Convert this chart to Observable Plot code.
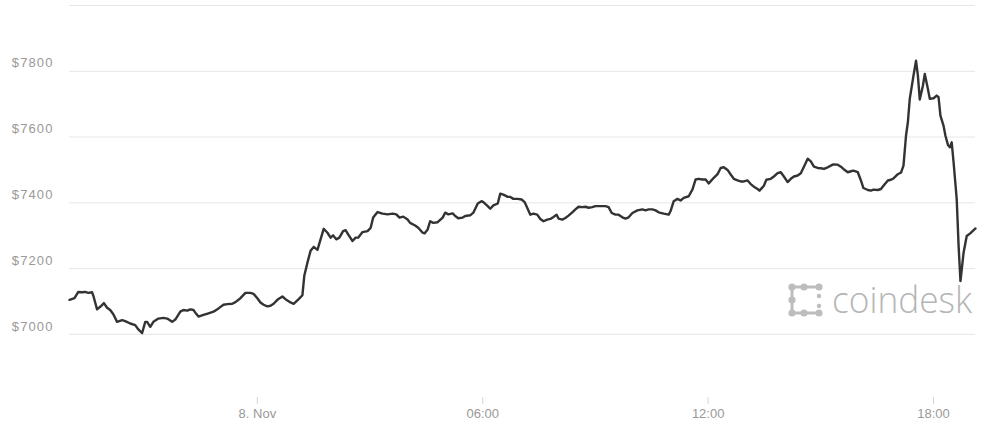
<!DOCTYPE html>
<html><head><meta charset="utf-8">
<script src="https://cdn.jsdelivr.net/npm/d3@7"></script>
<script src="https://cdn.jsdelivr.net/npm/@observablehq/plot@0.6"></script>
<style>
html,body{margin:0;padding:0;background:#fff;}
#wrap{width:986px;height:424px;}
svg [aria-label="y-axis tick label"] text{letter-spacing:1.1px;}
</style></head><body><div id="wrap"></div>
<script>
const times = ["07T19:00","07T19:08","07T19:14","07T19:20","07T19:25","07T19:30","07T19:36","07T19:38","07T19:44","07T19:51","07T19:55","07T20:00","07T20:05","07T20:10","07T20:16","07T20:24","07T20:29","07T20:37","07T20:45","07T20:50","07T20:56","07T21:01","07T21:04","07T21:09","07T21:14","07T21:22","07T21:30","07T21:36","07T21:44","07T21:49","07T21:57","07T22:02","07T22:08","07T22:13","07T22:18","07T22:21","07T22:26","07T22:34","07T22:42","07T22:50","07T22:58","07T23:06","07T23:12","07T23:20","07T23:25","07T23:33","07T23:41","07T23:49","07T23:54","08T00:00","08T00:05","08T00:10","08T00:16","08T00:21","08T00:26","08T00:32","08T00:40","08T00:45","08T00:53","08T00:58","08T01:06","08T01:12","08T01:15","08T01:20","08T01:25","08T01:30","08T01:36","08T01:41","08T01:46","08T01:52","08T01:57","08T02:01","08T02:06","08T02:11","08T02:17","08T02:21","08T02:25","08T02:32","08T02:37","08T02:41","08T02:48","08T02:56","08T03:01","08T03:05","08T03:12","08T03:20","08T03:28","08T03:36","08T03:42","08T03:47","08T03:53","08T04:00","08T04:04","08T04:12","08T04:17","08T04:24","08T04:27","08T04:32","08T04:36","08T04:41","08T04:48","08T04:56","08T05:00","08T05:05","08T05:12","08T05:16","08T05:21","08T05:28","08T05:32","08T05:40","08T05:45","08T05:52","08T05:58","08T06:01","08T06:08","08T06:12","08T06:17","08T06:24","08T06:28","08T06:33","08T06:40","08T06:44","08T06:49","08T06:56","08T07:02","08T07:07","08T07:11","08T07:16","08T07:21","08T07:27","08T07:32","08T07:37","08T07:43","08T07:48","08T07:53","08T07:58","08T08:01","08T08:07","08T08:12","08T08:17","08T08:23","08T08:28","08T08:33","08T08:39","08T08:44","08T08:49","08T08:55","08T09:00","08T09:08","08T09:16","08T09:21","08T09:26","08T09:32","08T09:37","08T09:43","08T09:48","08T09:53","08T09:59","08T10:07","08T10:15","08T10:20","08T10:25","08T10:31","08T10:36","08T10:41","08T10:49","08T10:57","08T11:00","08T11:05","08T11:11","08T11:16","08T11:21","08T11:29","08T11:35","08T11:40","08T11:45","08T11:51","08T11:56","08T12:01","08T12:09","08T12:15","08T12:20","08T12:25","08T12:31","08T12:36","08T12:41","08T12:47","08T12:52","08T12:57","08T13:03","08T13:08","08T13:13","08T13:19","08T13:22","08T13:29","08T13:33","08T13:40","08T13:45","08T13:51","08T13:56","08T14:01","08T14:07","08T14:12","08T14:17","08T14:23","08T14:28","08T14:33","08T14:39","08T14:44","08T14:49","08T14:55","08T15:00","08T15:05","08T15:11","08T15:16","08T15:20","08T15:27","08T15:32","08T15:36","08T15:43","08T15:48","08T15:52","08T15:59","08T16:04","08T16:08","08T16:15","08T16:20","08T16:24","08T16:31","08T16:36","08T16:40","08T16:47","08T16:52","08T16:56","08T17:03","08T17:08","08T17:12","08T17:16","08T17:19","08T17:22","08T17:28","08T17:32","08T17:35","08T17:38","08T17:43","08T17:46","08T17:51","08T17:54","08T18:00","08T18:05","08T18:08","08T18:11","08T18:16","08T18:19","08T18:23","08T18:26","08T18:29","08T18:32","08T18:37","08T18:40","08T18:43","08T18:48","08T18:53","08T18:59","08T19:07"];
const prices = [7105,7110,7129,7128,7129,7126,7128,7118,7076,7087,7095,7081,7074,7061,7038,7043,7040,7033,7028,7015,7004,7038,7038,7023,7038,7048,7050,7048,7038,7045,7069,7074,7072,7076,7074,7066,7054,7059,7064,7069,7079,7090,7092,7093,7098,7110,7126,7126,7123,7110,7097,7090,7085,7087,7093,7105,7115,7107,7097,7093,7107,7119,7178,7218,7254,7266,7257,7289,7321,7309,7294,7301,7289,7294,7314,7317,7304,7284,7294,7294,7311,7314,7324,7355,7372,7367,7365,7367,7365,7355,7358,7349,7339,7331,7324,7309,7307,7319,7344,7339,7341,7355,7370,7365,7368,7360,7353,7355,7360,7362,7370,7398,7405,7402,7390,7382,7392,7398,7428,7425,7418,7418,7412,7412,7410,7402,7385,7364,7367,7364,7351,7344,7349,7351,7357,7364,7352,7349,7354,7361,7371,7380,7388,7387,7388,7385,7387,7390,7390,7390,7387,7369,7364,7364,7356,7352,7356,7369,7377,7380,7377,7380,7380,7377,7371,7367,7364,7375,7405,7412,7407,7415,7420,7441,7471,7473,7471,7471,7459,7476,7487,7506,7508,7500,7486,7473,7468,7465,7465,7468,7457,7449,7442,7437,7452,7470,7473,7480,7490,7493,7480,7463,7473,7480,7483,7490,7510,7534,7526,7510,7506,7505,7503,7508,7513,7517,7516,7510,7503,7493,7496,7498,7493,7468,7445,7439,7437,7440,7439,7442,7452,7468,7470,7474,7487,7492,7513,7604,7645,7716,7787,7832,7787,7714,7756,7792,7746,7716,7718,7726,7721,7665,7634,7604,7576,7569,7584,7523,7411,7269,7162,7249,7299,7308,7322];
const xTickTimes = ["08T00:00","08T06:00","08T12:00","08T18:00"];
const xTickLabels = ["8. Nov","06:00","12:00","18:00"];
const yTickValues = [7000,7200,7400,7600,7800];
const gridValues = [7000,7200,7400,7600,7800,8000];

const toDate = s => new Date(`2017-11-${s}:00Z`);
const data = times.map((t, i) => ({date: toDate(t), price: prices[i]}));
const xTickDates = xTickTimes.map(toDate);

const chart = Plot.plot({
  width: 986, height: 424,
  marginTop: 5, marginBottom: 27, marginLeft: 69, marginRight: 11,
  style: {background: "#fff", fontFamily: "'Liberation Sans', Arial, sans-serif", overflow: "visible"},
  x: {type: "utc", domain: d3.extent(data, d => d.date), label: null},
  y: {domain: [6808, 8000], label: null},
  marks: [
    Plot.gridY(gridValues, {stroke: "#e6e6e6", strokeOpacity: 1, strokeWidth: 1}),
    Plot.axisY(yTickValues, {tickSize: 0, tickPadding: 16, dy: -8, tickFormat: d => "$" + d, fill: "#999", fontSize: 13, label: null}),
    Plot.axisX(xTickDates, {tickSize: 7, tickPadding: 4, stroke: "#ccd6eb", fill: "#999", fontSize: 13, label: null,
      tickFormat: d => xTickLabels[xTickDates.findIndex(t => +t === +d)]}),
    Plot.line(data, {x: "date", y: "price", stroke: "#333", strokeWidth: 2.4, strokeLinejoin: "round"})
  ]
});
document.getElementById("wrap").appendChild(chart);

// coindesk watermark
const svg = d3.select(chart);
const logo = svg.insert("g", "g[aria-label='line']").attr("transform", "translate(788,285)").attr("fill", "#bdbdbd").attr("stroke", "#bdbdbd");
const nodes = [[4,2],[16,2],[31,2],[4,15],[4,28],[16,28],[31,28]];
logo.append("path").attr("d", "M31,2 H4 V28 H31").attr("fill", "none").attr("stroke-width", 3);
nodes.forEach(([cx, cy]) => logo.append("circle").attr("cx", cx).attr("cy", cy).attr("r", 3.6).attr("stroke", "none"));
[[31,11],[31,21]].forEach(([cx, cy]) => logo.append("circle").attr("cx", cx).attr("cy", cy).attr("r", 2.2).attr("stroke", "none"));
svg.insert("text", "g[aria-label='line']").attr("x", 832).attr("y", 313).attr("fill", "#b5b5b5")
  .attr("text-anchor", "start")
  .attr("font-family", "'Open Sans', Lato, sans-serif").attr("font-weight", 300).attr("font-size", 36)
  .attr("textLength", 140).attr("lengthAdjust", "spacingAndGlyphs").text("coindesk");
</script></body></html>
